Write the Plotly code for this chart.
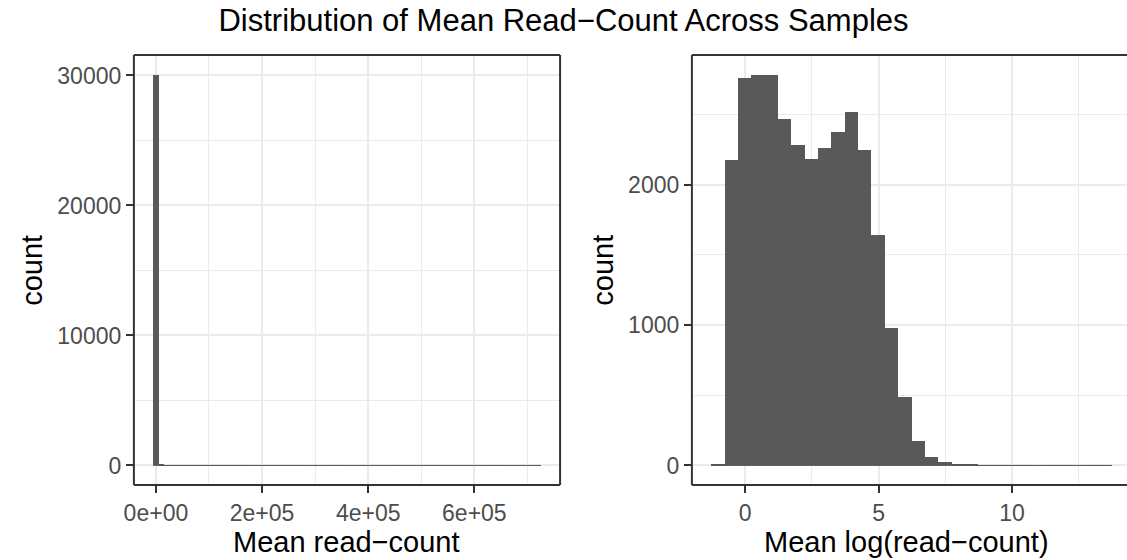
import plotly.graph_objects as go

# Histogram of mean read-count per gene (binwidth 10000, bins centred on multiples of 10000)
raw_bin_width = 10000
raw_bin_centers = list(range(0, 730000, raw_bin_width))
raw_counts = [
    30070, 96, 34, 20, 13, 9, 7, 5, 4, 3,
    3, 2, 2, 2, 1, 1, 2, 1, 0, 1,
    1, 0, 1, 0, 0, 1, 0, 1, 0, 0,
    1, 0, 0, 0, 1, 0, 0, 0, 0, 1,
    0, 0, 0, 0, 0, 1, 0, 0, 0, 0,
    0, 0, 1, 0, 0, 0, 0, 0, 0, 0,
    0, 0, 0, 0, 1, 0, 0, 0, 0, 0,
    0, 0, 1,
]

# Histogram of mean log(read-count) per gene (30 bins)
log_bin_width = 0.5005
log_bin_centers = [
    -1.025, -0.524, -0.024, 0.477, 0.977, 1.478, 1.978, 2.479, 2.979, 3.480,
    3.980, 4.481, 4.981, 5.482, 5.982, 6.483, 6.983, 7.484, 7.984, 8.485,
    8.985, 9.486, 9.986, 10.487, 10.987, 11.488, 11.988, 12.489, 12.989, 13.490,
]
log_counts = [
    10, 2172, 2760, 2783, 2780, 2469, 2284, 2185, 2263, 2371,
    2513, 2243, 1640, 980, 490, 177, 57, 28, 12, 4,
    3, 2, 1, 1, 0, 1, 1, 0, 1, 1,
]

left_xticks = [0, 200000, 400000, 600000]
left_xlabels = ["0e+00", "2e+05", "4e+05", "6e+05"]
left_yticks = [0, 10000, 20000, 30000]
left_ylabels = ["0", "10000", "20000", "30000"]
right_xticks = [0, 5, 10]
right_yticks = [0, 1000, 2000]
right_ylabels = ["0", "1000", "2000"]

W, H = 1127, 560
FILL = "#595959"
FONT = "Liberation Sans, Arial, sans-serif"
GRID = "#EBEBEB"
EDGE = "#333333"

fig = go.Figure()

fig.add_trace(go.Bar(x=raw_bin_centers, y=raw_counts, width=raw_bin_width,
                     marker=dict(color=FILL, line=dict(width=0)),
                     xaxis="x", yaxis="y", hoverinfo="x+y"))
# empty bins still show as a hairline along zero
fig.add_trace(go.Scatter(
    x=[raw_bin_centers[0] - raw_bin_width / 2, raw_bin_centers[-1] + raw_bin_width / 2],
    y=[0, 0], mode="lines", line=dict(color=FILL, width=1),
    xaxis="x", yaxis="y", hoverinfo="skip"))

fig.add_trace(go.Bar(x=log_bin_centers, y=log_counts, width=log_bin_width,
                     marker=dict(color=FILL, line=dict(width=0)),
                     xaxis="x2", yaxis="y2", hoverinfo="x+y"))
fig.add_trace(go.Scatter(
    x=[log_bin_centers[0] - log_bin_width / 2, log_bin_centers[-1] + log_bin_width / 2],
    y=[0, 0], mode="lines", line=dict(color=FILL, width=1),
    xaxis="x2", yaxis="y2", hoverinfo="skip"))

left_dom = [125 / W, 555 / W]
right_dom = [688 / W, 1.0]
y_dom = [1 - 485 / H, 1 - 55 / H]

tick_font = dict(family=FONT, size=23, color="#4D4D4D")
title_font = dict(family=FONT, size=29, color="#000000")


def axis_common():
    return dict(
        showgrid=True, gridcolor=GRID, gridwidth=2.4,
        zeroline=False, showline=False,
        ticks="outside", ticklen=7, tickwidth=2, tickcolor=EDGE,
        tickfont=tick_font,
    )


def minor_grid(vals):
    return dict(tickvals=vals, showgrid=True, gridcolor=GRID, gridwidth=1.2, ticks="")


# raw x range from the binned data span plus 5% padding
raw_lo = raw_bin_centers[0] - raw_bin_width / 2
raw_hi = raw_bin_centers[-1] + raw_bin_width / 2
raw_pad = 0.05 * (raw_hi - raw_lo)
raw_ymax = max(raw_counts)
log_ymax = max(log_counts)

fig.update_layout(
    width=W, height=H,
    margin=dict(l=0, r=0, t=0, b=0),
    paper_bgcolor="white", plot_bgcolor="white",
    showlegend=False, bargap=0,
    font=dict(family=FONT),
    title=dict(text="Distribution of Mean Read\u2212Count Across Samples",
               x=0.5, xanchor="center", y=1 - 20 / H, yanchor="middle",
               font=dict(family=FONT, size=31, color="#000000")),
    xaxis=dict(domain=left_dom, anchor="y",
               range=[raw_lo - raw_pad, raw_hi + raw_pad],
               tickvals=left_xticks, ticktext=left_xlabels,
               minor=minor_grid([100000, 300000, 500000, 700000]),
               **axis_common()),
    yaxis=dict(domain=y_dom, anchor="x",
               range=[-0.05 * raw_ymax, 1.05 * raw_ymax],
               tickvals=left_yticks, ticktext=left_ylabels,
               minor=minor_grid([5000, 15000, 25000]),
               **axis_common()),
    xaxis2=dict(domain=right_dom, anchor="y2",
                range=[-1.994, 14.31],
                tickvals=right_xticks, ticktext=[str(v) for v in right_xticks],
                minor=minor_grid([-2.5, 2.5, 7.5, 12.5]),
                **axis_common()),
    yaxis2=dict(domain=y_dom, anchor="x2",
                range=[-0.05 * log_ymax, 1.05 * log_ymax],
                tickvals=right_yticks, ticktext=right_ylabels,
                minor=minor_grid([500, 1500, 2500]),
                **axis_common()),
)

# axis titles
y_mid = 1 - 270 / H
x_title_y = 1 - 542 / H
for text, x, y, angle in (
    ("Mean read\u2212count", 340 / W, x_title_y, 0),
    ("Mean log(read\u2212count)", 905 / W, x_title_y, 0),
    ("count", 22 / W, y_mid, -90),
    ("count", 598 / W, y_mid, -90),
):
    fig.add_annotation(text=text, xref="paper", yref="paper", x=x, y=y,
                       xanchor="center", yanchor="middle", textangle=angle,
                       showarrow=False, font=title_font)

# panel borders
border = dict(color=EDGE, width=2)
for xr, yr, closed in (("x domain", "y domain", True), ("x2 domain", "y2 domain", False)):
    fig.add_shape(type="line", xref=xr, yref=yr, x0=0, x1=0, y0=0, y1=1, line=border, layer="above")
    fig.add_shape(type="line", xref=xr, yref=yr, x0=0, x1=1, y0=0, y1=0, line=border, layer="above")
    fig.add_shape(type="line", xref=xr, yref=yr, x0=0, x1=1, y0=1, y1=1, line=border, layer="above")
    if closed:
        fig.add_shape(type="line", xref=xr, yref=yr, x0=1, x1=1, y0=0, y1=1, line=border, layer="above")

fig.write_html("out.html")
